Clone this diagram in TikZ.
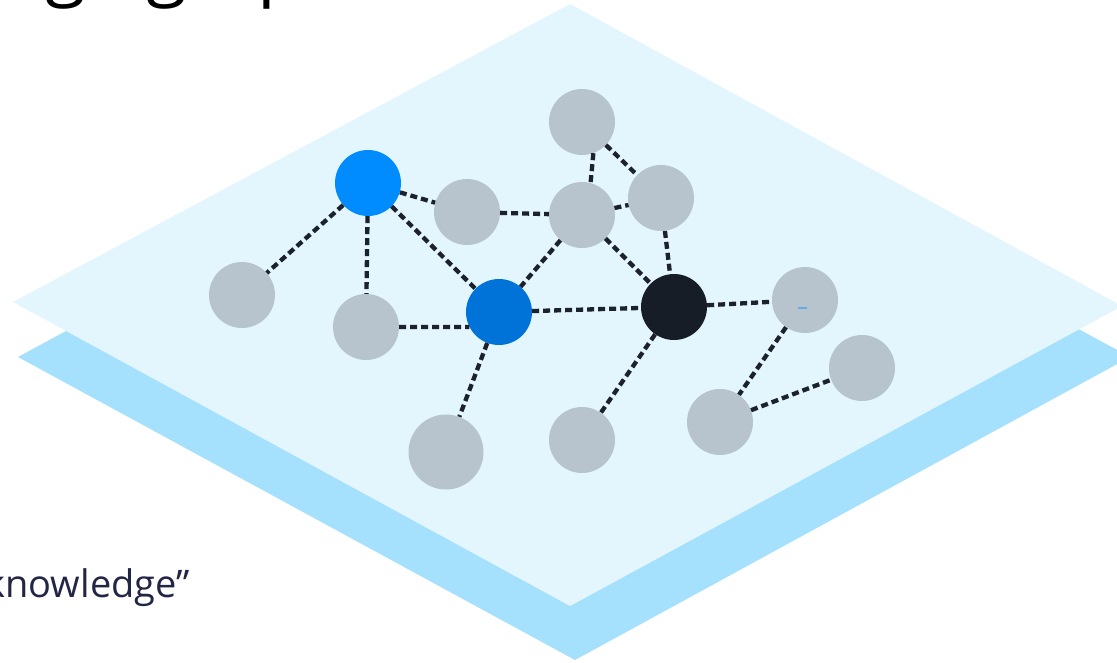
\documentclass[tikz,border=0pt]{standalone}
\usepackage{fontspec}
\setmainfont{Open Sans}
\usepackage{tikz}
\definecolor{sheettop}{HTML}{E3F6FE}
\definecolor{sheetbase}{HTML}{A5E1FD}
\definecolor{plaingray}{HTML}{B7C4CE}
\definecolor{queryblue}{HTML}{008CFF}
\definecolor{deepblue}{HTML}{0073D9}
\definecolor{hubblack}{HTML}{171D27}
\definecolor{linkdark}{HTML}{1C222C}
\definecolor{inknavy}{HTML}{222645}

\begin{document}
\begin{tikzpicture}[x=1pt, y=-1pt,
      every node/.append style={circle, inner sep=0pt, minimum size=66pt, fill=plaingray},
      relation/.style={draw=linkdark, line width=4.3pt, dash pattern=on 7pt off 4pt}]
    \tikzstyle{words} = [rectangle, minimum size=0pt, fill=none, inner sep=0pt]
    \useasboundingbox (0,0) rectangle (1117,662);
    % the two sheets
    \fill[sheetbase] (18,357) -- (575,55) -- (1130,357) -- (575,660) -- cycle;
    \fill[sheettop] (13,302) -- (570,4) -- (1122,306) -- (570,606) -- cycle;
    % entities
    \node (query) [fill=queryblue] at (368,183) {};
    \node (answer) [fill=deepblue] at (499,312) {};
    \node (hub) [fill=hubblack] at (674,307) {};
    \node (left) at (242,295) {};
    \node (below) at (366,327) {};
    \node (mid) at (467,212) {};
    \node (top) at (582,122) {};
    \node (centre) at (582,215) {};
    \node (side) at (661,198) {};
    \node (south) [minimum size=75pt] at (446,452) {};
    \node (under) at (582,440) {};
    \node (east) at (805,300) {};
    \node (far) at (862,368) {};
    \node (low) at (720,422) {};
    \draw[deepblue!60, line width=1.5pt] (798,308) -- (807,308);
    % relations
    \draw[relation] (query) -- (left);
    \draw[relation] (query) -- (below);
    \draw[relation] (query) -- (mid);
    \draw[relation] (query) -- (answer);
    \draw[relation] (mid) -- (centre);
    \draw[relation] (top.-70) -- (centre.75);
    \draw[relation] (top) -- (side);
    \draw[relation] (centre) -- (side);
    \draw[relation] (centre) -- (answer);
    \draw[relation] (centre) -- (hub);
    \draw[relation] (side) -- (hub);
    \draw[relation] (below) -- (answer.207);
    \draw[relation] (answer) -- (hub);
    \draw[relation] (answer) -- (south);
    \draw[relation] (hub) -- (under);
    \draw[relation] (hub) -- (east);
    \draw[relation] (east) -- (low);
    \draw[relation] (low) -- (far);
    % texts
    \node (title) [words, anchor=base east, font=\fontsize{74}{80}\selectfont, text=black] at (348,-9) {Knowledge graph};
    \node (caption) [words, anchor=base east, font=\fontsize{38}{44}\selectfont, text=inknavy] at (190,597) {knowledge”};
  \end{tikzpicture}
\end{document}
